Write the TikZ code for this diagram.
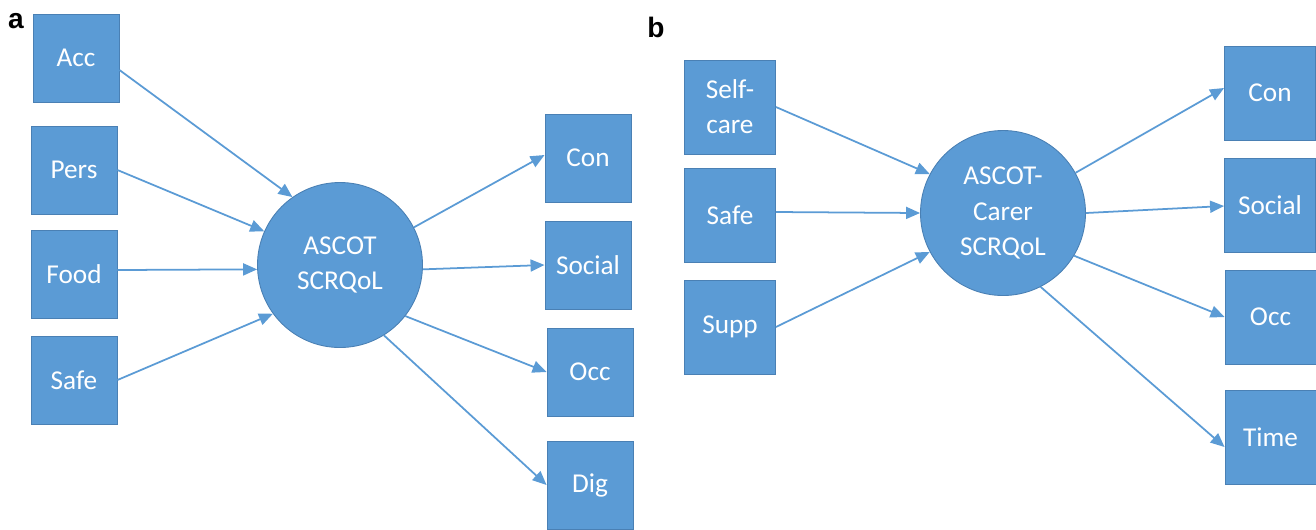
\documentclass[tikz,border=0pt]{standalone}
\usepackage{fontspec}
\setmainfont{Carlito}
\newfontfamily\panelfont{Liberation Sans}
\usetikzlibrary{arrows.meta}
\definecolor{officeblue}{HTML}{5B9BD5}
\definecolor{officeedge}{HTML}{4A80B4}

\begin{document}
\begin{tikzpicture}[
        item/.style={rectangle, draw=officeedge, line width=0.5pt, fill=officeblue, text=white, align=center, inner sep=0pt, font=\fontsize{15.5}{20}\selectfont},
        itema/.style={item, minimum width=1.72cm, minimum height=1.76cm},
        itemb/.style={item, minimum width=1.82cm, minimum height=1.88cm},
        hub/.style={circle, draw=officeedge, line width=0.5pt, fill=officeblue, text=white, align=center, minimum size=3.3cm, inner sep=0pt, font=\fontsize{15.5}{20}\selectfont},
        link/.style={draw=officeblue, line width=1pt, -{Triangle[length=2.8mm, width=2.4mm]}},
        panel/.style={anchor=base, inner sep=0pt, font=\panelfont\bfseries\fontsize{16}{18}\selectfont}
    ]
        \useasboundingbox (0,0) rectangle (26.32,-10.58);

        % panel a
        \node [panel] (labela) at (0.32,-0.56) {a};
        \node [itema] (acc) at (1.52,-1.16) {Acc};
        \node [itema] (pers) at (1.48,-3.40) {Pers};
        \node [itema] (food) at (1.48,-5.48) {Food};
        \node [itema] (safea) at (1.48,-7.60) {Safe};
        \node [hub] (hubA) at (6.80,-5.30) {ASCOT\\SCRQoL};
        \node [itema] (cona) at (11.76,-3.16) {Con};
        \node [itema] (sociala) at (11.76,-5.30) {Social};
        \node [itema] (occa) at (11.80,-7.44) {Occ};
        \node [itema] (dig) at (11.80,-9.70) {Dig};

        \draw[link] ([yshift=-0.24cm]acc.east) -- (hubA.125);
        \draw[link] (pers.east) -- (hubA.156);
        \draw[link] ([yshift=0.08cm]food.east) -- (hubA.183);
        \draw[link] (safea.east) -- (hubA.216);
        \draw[link] (hubA.27) -- ([yshift=0.06cm]cona.west);
        \draw[link] (hubA.357) -- (sociala.west);
        \draw[link] (hubA.322) -- (occa.west);
        \draw[link] (hubA.302) -- (dig.west);

        % panel b
        \node [panel] (labelb) at (13.12,-0.74) {b};
        \node [itemb] (selfcare) at (14.60,-2.14) {Self-\\care};
        \node [itemb] (safeb) at (14.60,-4.30) {Safe};
        \node [itemb] (supp) at (14.60,-6.54) {Supp};
        \node [hub] (hubB) at (20.06,-4.26) {ASCOT-\\Carer\\SCRQoL};
        \node [itemb] (conb) at (25.40,-1.86) {Con};
        \node [itemb] (socialb) at (25.40,-4.10) {Social};
        \node [itemb] (occb) at (25.41,-6.34) {Occ};
        \node [itemb] (time) at (25.41,-8.74) {Time};

        \draw[link] (selfcare.east) -- (hubB.152);
        \draw[link] ([yshift=0.06cm]safeb.east) -- (hubB.180);
        \draw[link] (supp.east) -- (hubB.208);
        \draw[link] (hubB.29) -- ([yshift=0.1cm]conb.west);
        \draw[link] (hubB.0) -- ([yshift=-0.02cm]socialb.west);
        \draw[link] (hubB.329) -- (occb.west);
        \draw[link] (hubB.297) -- ([yshift=-0.2cm]time.west);
    \end{tikzpicture}
\end{document}
